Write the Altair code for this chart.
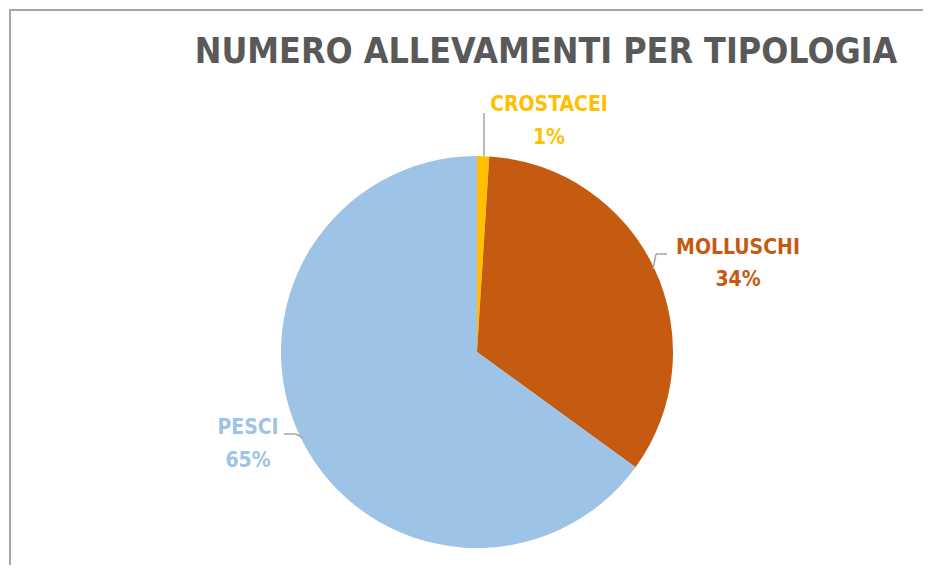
import altair as alt
import pandas as pd

title_text = "NUMERO ALLEVAMENTI PER TIPOLOGIA"
categories = ["CROSTACEI", "MOLLUSCHI", "PESCI"]
shares = [1, 34, 65]
colors = ["#FFC000", "#C55A11", "#9DC3E6"]
order = [0, 1, 2]

df = pd.DataFrame({"categoria": categories, "quota": shares, "ordine": order})

OFF = 8  # page margin
def px(v):
    return v - OFF

FONT = "Liberation Sans Narrow, DejaVu Sans Condensed, Arial Narrow, sans-serif"
GRAY = "#A6A6A6"

pie = alt.Chart(df).mark_arc(outerRadius=196, stroke=None).encode(
    theta=alt.Theta("quota:Q", stack=True),
    order=alt.Order("ordine:Q"),
    color=alt.Color("categoria:N", scale=alt.Scale(domain=categories, range=colors), legend=None),
    x=alt.value(px(476)),
    y=alt.value(px(351)),
)

base = alt.Chart(pd.DataFrame({"d": [0]}))

title = base.mark_text(font=FONT, fontSize=35.5, fontWeight="bold", color="#595959",
                       align="center", baseline="alphabetic").encode(
    x=alt.value(px(545)), y=alt.value(px(62)), text=alt.value(title_text))

label_pos = {
    "CROSTACEI": (548, 110, 143),
    "MOLLUSCHI": (737, 253, 285),
    "PESCI": (247, 433, 466),
}
labels = []
for cat, val, col in zip(categories, shares, colors):
    cx, y1, y2 = label_pos[cat]
    for txt, yy in ((cat, y1), (f"{val}%", y2)):
        labels.append(
            base.mark_text(font=FONT, fontSize=21, fontWeight="bold", color=col,
                           align="center", baseline="alphabetic").encode(
                x=alt.value(px(cx)), y=alt.value(px(yy)), text=alt.value(txt))
        )

segments = [
    (483, 112, 483, 155),
    (652, 268, 655, 253),
    (655, 253, 666, 253),
    (283, 433, 295, 433),
    (295, 433, 302, 437),
]
leaders = [
    base.mark_rule(color=GRAY, strokeWidth=1.5).encode(
        x=alt.value(px(a)), y=alt.value(px(b)), x2=alt.value(px(c)), y2=alt.value(px(d)))
    for a, b, c, d in segments
]

border = [
    base.mark_rule(color=GRAY, strokeWidth=2).encode(
        x=alt.value(0), x2=alt.value(915), y=alt.value(1), y2=alt.value(1)),
    base.mark_rule(color=GRAY, strokeWidth=2).encode(
        x=alt.value(1), x2=alt.value(1), y=alt.value(0), y2=alt.value(557)),
]

chart = alt.layer(pie, title, *labels, *leaders, *border).properties(
    width=915, height=557,
    autosize=alt.AutoSizeParams(type="fit", contains="padding"),
    padding=0,
).configure_view(stroke=None)

chart.save("out.html", embed_options={"renderer": "svg", "actions": False})
